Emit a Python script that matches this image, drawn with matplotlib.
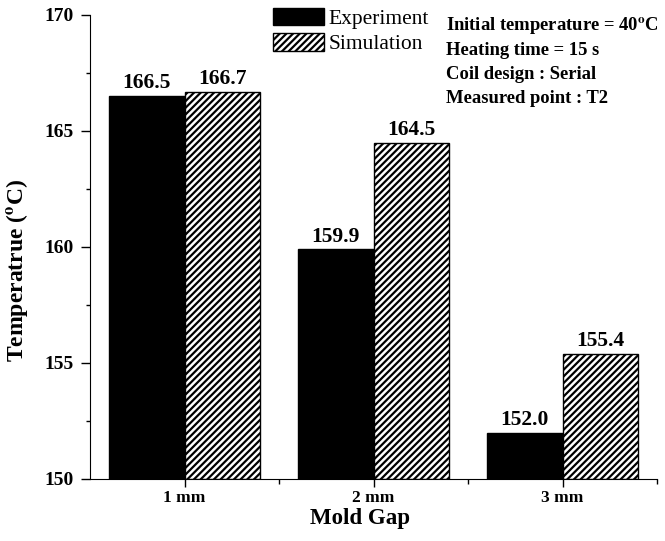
import numpy as np
import matplotlib.pyplot as plt
from matplotlib.patches import Patch
from matplotlib.ticker import MultipleLocator, FixedLocator

plt.rcParams['font.family'] = ['Liberation Serif', 'DejaVu Serif']
plt.rcParams['mathtext.fontset'] = 'stix'
plt.rcParams['hatch.linewidth'] = 1.6

# data
gaps = ['1 mm', '2 mm', '3 mm']
experiment = [166.5, 159.9, 152.0]
simulation = [166.7, 164.5, 155.4]
notes = ['Initial temperature = 40$^\\mathbf{o}$C', 'Heating time = 15 s',
         'Coil design : Serial', 'Measured point : T2']

x = np.arange(len(gaps))
w = 0.4

fig = plt.figure(figsize=(6.65, 5.41), dpi=100)
# axes box: x 90..657 px, y 15..479 px
ax = fig.add_axes([90/665, 1 - 479/541, 567/665, 464/541])

ax.bar(x - w/2, np.array(experiment) - 150, w, bottom=150,
       color='black', edgecolor='black', linewidth=1)
ax.bar(x + w/2, np.array(simulation) - 150, w, bottom=150,
       color='white', edgecolor='black', hatch='/////', linewidth=1)

for xi, v in zip(x - w/2, experiment):
    ax.text(xi, v + 0.12, f'{v:.1f}', ha='center', va='bottom',
            fontsize=15.5, fontweight='bold')
for xi, v in zip(x + w/2, simulation):
    ax.text(xi, v + 0.12, f'{v:.1f}', ha='center', va='bottom',
            fontsize=15.5, fontweight='bold')

ax.set_xlim(-0.5, 2.5)
ax.set_ylim(150, 170)
ax.set_xticks(x)
ax.set_xticklabels(gaps, fontsize=12.5, fontweight='bold')
ax.xaxis.set_minor_locator(FixedLocator([0.5, 1.5, 2.5]))
ax.yaxis.set_major_locator(MultipleLocator(5))
ax.yaxis.set_minor_locator(MultipleLocator(2.5))
for lab in ax.get_yticklabels():
    lab.set_fontweight('bold')
    lab.set_fontsize(14)
ax.tick_params(axis='y', which='major', length=6.5, width=1, direction='out', pad=5)
ax.tick_params(axis='y', which='minor', length=3, width=1, direction='out')
ax.tick_params(axis='x', which='major', length=6, width=1, direction='out', pad=2)
ax.tick_params(axis='x', which='minor', length=3.5, width=1, direction='out')

ax.spines['top'].set_visible(False)
ax.spines['right'].set_visible(False)

ax.set_xlabel('Mold Gap', fontsize=16.5, fontweight='bold')
ax.set_ylabel('Temperatrue ($^\\mathbf{o}$C)', fontsize=17, fontweight='bold')
ax.xaxis.set_label_coords((360 - 90) / 567, -(508 - 479) / 464)
ax.yaxis.set_label_coords((30 - 90) / 567, (479 - 270) / 464)

handles = [Patch(facecolor='black', edgecolor='black'),
           Patch(facecolor='white', edgecolor='black', hatch='/////')]
ax.legend(handles, ['Experiment', 'Simulation'], loc='upper left',
          bbox_to_anchor=(0.323, 1.016), frameon=False, fontsize=15.5,
          handlelength=2.37, handleheight=0.88, handletextpad=0.2,
          labelspacing=0.2, borderaxespad=0, borderpad=0)

for i, line in enumerate(notes):
    ax.text((446 - 90) / 567, (479 - (31 + 24 * i)) / 464, line,
            transform=ax.transAxes, ha='left', va='baseline',
            fontsize=13.4, fontweight='bold')

fig.savefig('out.png', dpi=100)
